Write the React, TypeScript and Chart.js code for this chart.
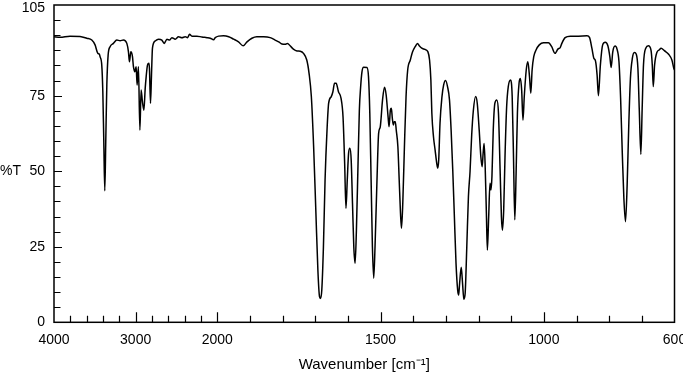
import React, { useEffect, useRef } from "react";
import { Chart, registerables } from "chart.js";

Chart.register(...registerables);

const WAVENUMBERS = [
  4000, 3926, 3804, 3681, 3599, 3537, 3497, 3464, 3444, 3436, 3415, 3402, 3390, 3378, 3366, 3353, 3337, 3313,
  3272, 3231, 3190, 3150, 3108, 3088, 3076, 3059, 3039, 3027, 3010, 2994, 2982, 2966, 2948, 2933, 2917, 2899,
  2883, 2871, 2855, 2838, 2831, 2818, 2806, 2794, 2761, 2720, 2679, 2650, 2617, 2585, 2556, 2515, 2475, 2433,
  2393, 2364, 2340, 2310, 2249, 2188, 2126, 2086, 2045, 2025,
  1996, 1981, 1965, 1950, 1935, 1921, 1909, 1894, 1879, 1858, 1838, 1823, 1812, 1802, 1792, 1785, 1777, 1767,
  1756, 1746, 1736, 1726, 1719, 1712, 1705, 1698, 1692, 1687, 1684, 1680, 1675, 1670, 1664, 1659, 1651, 1646,
  1641, 1636, 1629, 1621, 1615, 1610, 1606, 1602, 1598, 1594, 1590, 1586, 1582, 1578, 1574, 1569, 1565, 1561,
  1557, 1552, 1542, 1537, 1533, 1529, 1525, 1521, 1517, 1511, 1506, 1501, 1494, 1488, 1483, 1477, 1474, 1470,
  1467, 1464, 1461, 1458, 1455, 1452, 1447, 1443, 1439, 1436, 1432, 1427, 1422, 1417, 1409, 1402, 1394, 1387,
  1381, 1374, 1364, 1355, 1350, 1346, 1343, 1338, 1333, 1328, 1325, 1322, 1318, 1312, 1307, 1301, 1295, 1289,
  1284, 1279, 1274, 1269, 1264, 1261, 1258, 1253, 1249, 1245, 1241, 1236, 1231, 1226, 1221, 1216, 1209, 1204,
  1198, 1193, 1189, 1186, 1183, 1180, 1176, 1173, 1169, 1165, 1162, 1159, 1155, 1150, 1144, 1139, 1134, 1130,
  1127, 1123, 1119, 1114, 1109, 1102, 1097, 1093, 1089, 1085, 1081, 1076, 1072, 1068, 1064, 1060, 1054, 1049,
  1044, 1040, 1036, 1031, 1024, 1014, 1001, 986, 976, 966, 957, 950, 945, 935, 919, 894, 868, 860, 853, 847,
  842, 837, 833, 827, 820, 812, 804, 798, 794, 789, 782, 776, 770, 765, 760, 755, 750, 745, 740, 735, 729,
  723, 717, 712, 708, 703, 699, 695, 688, 680, 672, 668, 665, 661, 654, 647, 641, 631, 618, 608, 602, 600,
];

// Transmittance (%T) at each wavenumber above
const TRANSMITTANCE = [
  94.5, 94.3, 94.7, 94.6, 94.0, 93.4, 91.8, 89.0, 88.7, 87.9, 85.1, 76.3, 59.8, 43.5, 59.8, 78.5, 88.4, 91.2,
  92.3, 93.4, 93.2, 93.4, 92.3, 89.5, 86.2, 89.5, 87.9, 84.6, 82.9, 84.6, 78.5, 84.6, 63.6, 76.9, 73.0, 70.2,
  77.4, 81.3, 85.1, 85.7, 84.0, 72.5, 81.8, 90.7, 93.1, 93.7, 93.4, 92.3, 93.7, 93.4, 94.2, 93.7, 94.5, 94.2,
  94.5, 94.2, 95.3, 94.7, 94.7, 94.4, 94.2, 94.0, 93.5, 94.2,
  94.7, 94.8, 94.5, 93.7, 92.8, 91.5, 92.8, 94.0, 94.5, 94.5, 94.2, 93.4, 92.8, 92.1, 92.0, 92.3, 91.5, 90.4,
  89.8, 89.7, 89.0, 86.8, 82.4, 74.7, 58.1, 36.1, 17.3, 8.5, 7.9, 10.7, 25.0, 47.1, 63.6, 72.5, 74.7, 76.3,
  79.1, 79.1, 76.3, 74.1, 68.0, 52.6, 37.7, 47.1, 55.9, 57.6, 53.7, 39.4, 25.0, 19.5, 30.5, 52.6, 70.2, 78.0,
  82.9, 84.4, 84.3, 81.3, 69.2, 47.1, 25.0, 14.6, 25.0, 47.1, 62.5, 64.7, 73.6, 77.8, 75.3, 68.0, 64.7, 70.2,
  70.8, 67.5, 65.3, 66.4, 66.4, 63.6, 58.1, 47.1, 36.1, 31.1, 39.4, 58.1, 74.7, 83.5, 86.8, 89.5, 91.2, 92.3,
  91.4, 90.7, 90.3, 89.5, 86.8, 80.2, 69.2, 61.4, 57.0, 52.6, 51.0, 53.7, 65.9, 74.7, 78.5, 80.0, 78.0, 73.6,
  63.6, 50.4, 34.9, 19.5, 10.7, 9.0, 12.9, 18.2, 12.9, 7.6, 9.6, 25.0, 41.6, 50.0, 62.0, 70.0, 74.7, 72.5,
  63.6, 54.8, 51.5, 55.9, 59.2, 52.6, 36.1, 23.9, 34.9, 46.0, 43.8, 48.2, 63.6, 72.5, 73.6, 69.2, 50.4, 34.9,
  30.5, 37.2, 54.8, 71.3, 78.0, 80.2, 74.7, 54.8, 33.9, 49.3, 69.2, 79.1, 80.7, 76.9, 66.9, 74.7, 83.5, 86.2,
  81.3, 75.8, 83.5, 87.9, 90.1, 91.8, 92.5, 92.5, 91.2, 89.0, 90.4, 90.9, 92.3, 94.2, 94.7, 94.7, 94.8, 94.2, 90.7, 87.4,
  86.5, 81.8, 75.0, 85.1, 91.8, 92.7, 91.5, 87.9, 84.3, 89.5, 91.4, 90.4, 86.2, 74.1, 56.4, 41.0, 33.3, 45.4, 65.3, 80.7, 87.4,
  89.3, 88.7, 84.0, 70.8, 55.6, 70.8, 85.1, 90.7, 91.5, 90.1, 85.1, 78.0, 85.1, 89.3, 90.1, 90.7, 89.9, 88.7, 86.8, 84.0, 83.5,
];

const X_TICK_LABELS = [4000, 3000, 2000, 1500, 1000, 600];
const X_MAJOR_TICKS = [3000, 2000, 1500, 1000];
const X_MINOR_TICKS = [3800, 3600, 3400, 3200, 2800, 2600, 2400, 2200, 1900, 1800, 1700, 1600, 1400, 1300, 1200, 1100, 900, 800, 700];
const Y_TICK_LABELS = [0, 25, 50, 75];
const Y_TOP_LABEL = 105;
const Y_MAJOR_TICKS = [25, 50, 75];
const Y_MINOR_TICKS = [5, 10, 15, 20, 30, 35, 40, 45, 55, 60, 65, 70, 80, 85, 90, 95, 100];

// Axis is compressed 4x above 2000 cm-1
const W_MAX = 4000;
const W_BREAK = 2000;
const W_MIN = 600;
const COMPRESSION = 4;

function toAxis(w: number): number {
  return w >= W_BREAK ? (W_MAX - w) / COMPRESSION : (W_MAX - W_BREAK) / COMPRESSION + (W_BREAK - w);
}
function fromAxis(u: number): number {
  const b = (W_MAX - W_BREAK) / COMPRESSION;
  return u <= b ? W_MAX - u * COMPRESSION : W_BREAK - (u - b);
}

const FONT_FAMILY = '"Liberation Sans", Arial, Helvetica, sans-serif';
const TICK_SIZE = 14;

const frameTicks = {
  id: "frameTicks",
  afterDatasetsDraw(chart: any) {
    const { ctx, chartArea: a, scales } = chart;
    const x = scales.x;
    const y = scales.y;
    ctx.save();
    ctx.strokeStyle = "#000";
    ctx.lineWidth = 1.5;
    ctx.strokeRect(a.left, a.top, a.right - a.left, a.bottom - a.top);
    ctx.lineWidth = 1.2;
    ctx.beginPath();
    X_MAJOR_TICKS.forEach((w) => {
      const px = Math.round(x.getPixelForValue(toAxis(w))) + 0.5;
      ctx.moveTo(px, a.bottom);
      ctx.lineTo(px, a.bottom - 10);
    });
    X_MINOR_TICKS.forEach((w) => {
      const px = Math.round(x.getPixelForValue(toAxis(w))) + 0.5;
      ctx.moveTo(px, a.bottom);
      ctx.lineTo(px, a.bottom - 6.5);
    });
    Y_MAJOR_TICKS.forEach((v) => {
      const py = Math.round(y.getPixelForValue(v)) + 0.5;
      ctx.moveTo(a.left, py);
      ctx.lineTo(a.left + 8, py);
    });
    Y_MINOR_TICKS.forEach((v) => {
      const py = Math.round(y.getPixelForValue(v)) + 0.5;
      ctx.moveTo(a.left, py);
      ctx.lineTo(a.left + 6.5, py);
    });
    ctx.stroke();
    ctx.fillStyle = "#000";
    ctx.font = `${TICK_SIZE}px ${FONT_FAMILY}`;
    ctx.textBaseline = "middle";
    ctx.textAlign = "right";
    ctx.fillText(String(Y_TOP_LABEL), a.left - 9, y.getPixelForValue(Y_TOP_LABEL) + 3);
    ctx.textAlign = "left";
    ctx.fillText("%T", 0, y.getPixelForValue(50));
    ctx.restore();
  },
};

export default function App() {
  const ref = useRef<HTMLCanvasElement>(null);

  useEffect(() => {
    if (!ref.current) return;
    const points = WAVENUMBERS.map((w, i) => ({ x: toAxis(w), y: TRANSMITTANCE[i] }));
    const chart = new Chart(ref.current, {
      type: "line",
      data: {
        datasets: [
          {
            data: points,
            borderColor: "#000",
            borderWidth: 1.5,
            pointRadius: 0,
            fill: false,
            cubicInterpolationMode: "monotone",
          },
        ],
      },
      options: {
        animation: false,
        responsive: false,
        layout: { padding: { top: 5, right: 8.5, left: 0, bottom: 0 } },
        plugins: { legend: { display: false }, tooltip: { enabled: false } },
        scales: {
          x: {
            type: "linear",
            min: toAxis(W_MAX),
            max: toAxis(W_MIN),
            grid: { display: false, drawTicks: false },
            border: { display: false },
            afterBuildTicks: (s: any) => {
              s.ticks = X_TICK_LABELS.map((w) => ({ value: toAxis(w) }));
            },
            afterFit: (s: any) => {
              s.height = 52.7;
              s.paddingLeft = 0;
              s.paddingRight = 0;
            },
            ticks: {
              autoSkip: false,
              maxRotation: 0,
              padding: 9,
              color: "#000",
              font: { family: FONT_FAMILY, size: TICK_SIZE },
              callback: (v: any) => String(Math.round(fromAxis(Number(v)))),
            },
            title: {
              display: true,
              text: "Wavenumber [cm\u207B\u00B9]",
              color: "#000",
              font: { family: FONT_FAMILY, size: 15 },
              padding: { top: 0, bottom: 1 },
            },
          },
          y: {
            type: "linear",
            min: 0,
            max: 105,
            grid: { display: false, drawTicks: false },
            border: { display: false },
            afterBuildTicks: (s: any) => {
              s.ticks = Y_TICK_LABELS.map((v) => ({ value: v }));
            },
            afterFit: (s: any) => {
              s.width = 54;
              s.paddingTop = 0;
              s.paddingBottom = 0;
            },
            ticks: {
              autoSkip: false,
              padding: 9,
              color: "#000",
              font: { family: FONT_FAMILY, size: TICK_SIZE },
              callback: (v: any) => String(v),
            },
          },
        },
      },
      plugins: [frameTicks],
    });
    return () => chart.destroy();
  }, []);

  return (
    <div style={{ position: "absolute", left: 0, top: 0, width: 683, height: 375, background: "#fff" }}>
      <canvas ref={ref} width={683} height={375} style={{ display: "block" }} />
    </div>
  );
}
